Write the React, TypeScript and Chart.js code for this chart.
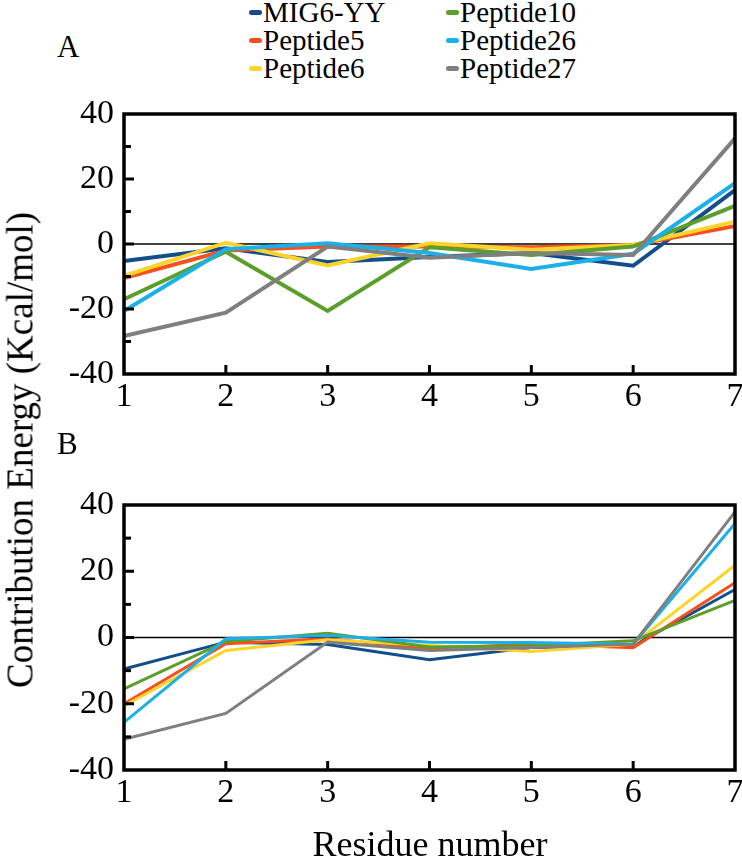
import React, { useEffect, useRef } from 'react';
import { Chart, registerables } from 'chart.js';

Chart.register(...registerables);

const FONT = "'Liberation Serif', 'DejaVu Serif', serif";

const residues = ['1', '2', '3', '4', '5', '6', '7'];
const seriesNames = ['MIG6-YY', 'Peptide5', 'Peptide6', 'Peptide10', 'Peptide26', 'Peptide27'];
const seriesColors = ['#114E8B', '#F5501E', '#FFD42A', '#5B9F2A', '#1CB0E8', '#7F7F7F'];

// Panel A
const mig6A = [-5.2, -1.3, -5.5, -4.0, -2.8, -6.7, 16.6];
const pep5A = [-10.5, -2.0, -0.8, -0.8, -1.0, -0.3, 5.5];
const pep6A = [-9.8, 0.4, -6.6, 0.2, -1.8, -0.3, 6.9];
const pep10A = [-17.0, -2.4, -20.6, -1.0, -3.4, -0.8, 11.7];
const pep26A = [-20.6, -1.6, 0.2, -2.8, -7.7, -3.0, 18.7];
const pep27A = [-28.3, -21.1, -0.8, -4.2, -2.8, -3.4, 32.5];

// Panel B
const mig6B = [-9.5, -1.4, -2.1, -6.7, -3.0, -2.5, 14.5];
const pep5B = [-20.0, -1.9, -0.4, -3.4, -2.0, -3.1, 16.5];
const pep6B = [-20.6, -3.9, -0.7, -2.4, -4.2, -2.0, 21.8];
const pep10B = [-15.5, -1.2, 1.3, -2.9, -2.5, -1.0, 11.2];
const pep26B = [-25.6, -0.4, 0.6, -1.4, -1.5, -2.0, 34.4];
const pep27B = [-30.7, -22.9, -1.4, -3.9, -3.0, -2.0, 37.9];

const yMin = -40;
const yMax = 40;
const yStep = 20;
const yMinorStep = 10;

const zeroLinePlugin = {
  id: 'zeroLine',
  beforeDatasetsDraw(chart: any) {
    const { ctx, chartArea: a, scales } = chart;
    const y0 = scales.y.getPixelForValue(0);
    ctx.save();
    ctx.strokeStyle = '#000';
    ctx.lineWidth = 1.5;
    ctx.beginPath();
    ctx.moveTo(a.left, y0);
    ctx.lineTo(a.right, y0);
    ctx.stroke();
    ctx.restore();
  },
};

const framePlugin = {
  id: 'frame',
  afterDraw(chart: any) {
    const { ctx, chartArea: a, scales } = chart;
    ctx.save();
    ctx.strokeStyle = '#000';
    ctx.lineWidth = 3;
    ctx.lineCap = 'butt';
    for (let v = yMin + yMinorStep; v < yMax; v += yMinorStep) {
      const py = scales.y.getPixelForValue(v);
      const len = v % yStep === 0 ? 10 : 7;
      ctx.beginPath();
      ctx.moveTo(a.left, py);
      ctx.lineTo(a.left + len, py);
      ctx.stroke();
    }
    for (let i = 1; i < residues.length - 1; i++) {
      const px = scales.x.getPixelForValue(i);
      ctx.beginPath();
      ctx.moveTo(px, a.bottom);
      ctx.lineTo(px, a.bottom - 9);
      ctx.stroke();
    }
    ctx.lineWidth = 3.5;
    ctx.strokeRect(a.left, a.top, a.right - a.left, a.bottom - a.top);
    ctx.restore();
  },
};

function makeConfig(series: number[][], lineWidth: number, padTop: number, xHeight: number): any {
  return {
    type: 'line',
    data: {
      labels: residues,
      datasets: seriesNames.map((name, i) => ({
        label: name,
        data: series[i],
        borderColor: seriesColors[i],
        backgroundColor: seriesColors[i],
        borderWidth: lineWidth,
        pointRadius: 0,
        tension: 0,
        fill: false,
        order: seriesNames.length - i,
      })),
    },
    options: {
      responsive: false,
      maintainAspectRatio: false,
      animation: false,
      layout: { padding: { top: padTop, right: 7, left: 0, bottom: 0 } },
      plugins: { legend: { display: false }, tooltip: { enabled: false } },
      scales: {
        x: {
          type: 'category',
          offset: false,
          grid: { display: false, drawTicks: false },
          border: { display: false },
          ticks: { color: '#000', font: { family: FONT, size: 34 }, padding: 3, maxRotation: 0, autoSkip: false },
          afterFit(s: any) {
            s.height = xHeight;
            s.paddingLeft = 0;
            s.paddingRight = 0;
          },
        },
        y: {
          min: yMin,
          max: yMax,
          grid: { display: false, drawTicks: false },
          border: { display: false },
          ticks: { stepSize: yStep, color: '#000', font: { family: FONT, size: 34 }, padding: 10 },
          afterFit(s: any) {
            s.width = 124;
            s.paddingTop = 0;
            s.paddingBottom = 0;
          },
        },
      },
    },
    plugins: [zeroLinePlugin, framePlugin],
  };
}

function Panel({ series, lineWidth, top, height, padTop, xHeight }: any) {
  const ref = useRef<HTMLCanvasElement>(null);
  useEffect(() => {
    if (!ref.current) return;
    const chart = new Chart(ref.current, makeConfig(series, lineWidth, padTop, xHeight));
    return () => chart.destroy();
  }, []);
  return (
    <canvas
      ref={ref}
      width={742}
      height={height}
      style={{ position: 'absolute', left: 0, top, width: 742, height }}
    />
  );
}

const legendCols = [
  [0, 1, 2],
  [3, 4, 5],
];

export default function App() {
  const seriesA = [mig6A, pep5A, pep6A, pep10A, pep26A, pep27A];
  const seriesB = [mig6B, pep5B, pep6B, pep10B, pep26B, pep27B];
  const textStyle: any = { position: 'absolute', fontFamily: FONT, color: '#000', whiteSpace: 'nowrap' };
  return (
    <div style={{ position: 'absolute', left: 0, top: 0, width: 742, height: 858, background: '#fff', overflow: 'hidden' }}>
      <Panel series={seriesA} lineWidth={4} top={90} height={340} padTop={24} xHeight={56} />
      <Panel series={seriesB} lineWidth={3} top={480} height={370} padTop={25} xHeight={80} />
      {legendCols.map((col, ci) =>
        col.map((si, ri) => (
          <div
            key={seriesNames[si]}
            style={{ ...textStyle, left: ci === 0 ? 249 : 446, top: -2 + ri * 28, fontSize: 29, lineHeight: '28px', display: 'flex', alignItems: 'center' }}
          >
            <span style={{ display: 'inline-block', width: 13, height: 5, borderRadius: 3, background: seriesColors[si], marginRight: 1 }} />
            <span>{seriesNames[si]}</span>
          </div>
        ))
      )}
      <div style={{ ...textStyle, left: 57, top: 31, fontSize: 31, lineHeight: '31px' }}>A</div>
      <div style={{ ...textStyle, left: 57, top: 428, fontSize: 31, lineHeight: '31px' }}>B</div>
      <div
        style={{
          ...textStyle,
          left: 20,
          top: 450,
          fontSize: 37,
          lineHeight: '37px',
          transform: 'translate(-50%, -50%) rotate(-90deg)',
        }}
      >
        Contribution Energy (Kcal/mol)
      </div>
      <div style={{ ...textStyle, left: 430, top: 844, fontSize: 36, lineHeight: '36px', transform: 'translate(-50%, -50%)' }}>
        Residue number
      </div>
    </div>
  );
}
